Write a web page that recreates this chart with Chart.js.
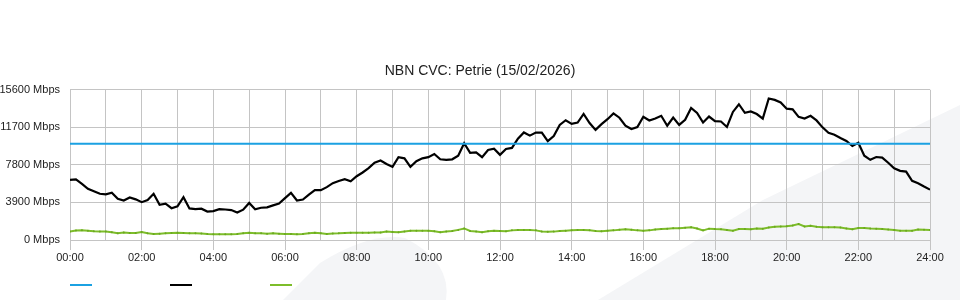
<!DOCTYPE html>
<html>
<head>
<meta charset="utf-8">
<title>NBN CVC: Petrie</title>
<script src="https://cdn.jsdelivr.net/npm/chart.js@4.4.1/dist/chart.umd.min.js"></script>
<style>
    html, body { margin: 0; padding: 0; background: #fff; }
    #wrap { position: relative; width: 960px; height: 300px; }
    #chart { position: absolute; left: 0; top: 0; }
    .swatch { position: absolute; top: 284px; width: 22px; height: 2px; }
</style>
</head>
<body>
<div id="wrap">
    <canvas id="chart" width="960" height="300"></canvas>
    <div class="swatch" style="left:70px;background:#1ba1e2"></div>
    <div class="swatch" style="left:170px;background:#000"></div>
    <div class="swatch" style="left:270px;background:#7dbd2a"></div>
</div>
<script>
// Data (10 minute samples across the day, Mbps)
const SAMPLE_MINUTES = 10;
const CVC_CAPACITY = 10000;

const trafficIn = [
    6240, 6290, 5830, 5320, 5070, 4800, 4750, 4910, 4290, 4100,
    4420, 4220, 3930, 4160, 4800, 3660, 3770, 3300, 3500, 4450,
    3280, 3200, 3250, 2950, 3000, 3210, 3170, 3110, 2860, 3150,
    3850, 3190, 3350, 3390, 3600, 3790, 4350, 4900, 4100, 4200,
    4720, 5180, 5170, 5490, 5900, 6120, 6320, 6100, 6620, 7010,
    7460, 8020, 8250, 7900, 7590, 8600, 8480, 7600, 8190, 8480,
    8600, 8930, 8390, 8320, 8380, 8750, 10050, 9050, 9100, 8600,
    9350, 9480, 8840, 9450, 9560, 10520, 11170, 10840, 11160, 11150,
    10270, 10800, 11950, 12440, 12060, 12200, 13100, 12150, 11440, 12030,
    12550, 13150, 12700, 11880, 11530, 11720, 12800, 12410, 12610, 12900,
    11870, 12720, 11950, 12480, 13720, 13200, 12200, 12820, 12340, 12310,
    11740, 13300, 14100, 13210, 13350, 13080, 12600, 14700, 14550, 14280,
    13640, 13570, 12790, 12610, 12900, 12420, 11700, 11130, 10940, 10600,
    10280, 9760, 10090, 8760, 8330, 8620, 8550, 8020, 7440, 7180,
    7100, 6150, 5900, 5550, 5230
];

const trafficOut = [
    870, 980, 1020, 960, 900, 870, 870, 800, 700, 790,
    720, 720, 820, 700, 620, 650, 690, 720, 760, 730,
    700, 690, 680, 620, 590, 590, 590, 590, 620, 700,
    760, 710, 690, 650, 690, 660, 630, 620, 600, 620,
    700, 760, 700, 620, 680, 690, 720, 760, 760, 760,
    760, 770, 780, 870, 830, 800, 880, 970, 960, 960,
    960, 900, 800, 880, 940, 1050, 1200, 940, 880, 800,
    900, 970, 930, 900, 1000, 1040, 1040, 1040, 1000, 880,
    860, 870, 930, 960, 1000, 1040, 1040, 1000, 940, 900,
    960, 1000, 1060, 1110, 1060, 1000, 970, 1000, 1080, 1150,
    1180, 1210, 1230, 1280, 1320, 1200, 1000, 1180, 1130, 1110,
    1050, 970, 1150, 1150, 1110, 1200, 1180, 1300, 1370, 1390,
    1420, 1500, 1650, 1400, 1480, 1380, 1320, 1330, 1320, 1300,
    1200, 1110, 1250, 1250, 1200, 1180, 1150, 1100, 1040, 970,
    970, 970, 1080, 1060, 1040
];

const xLabels = ['00:00', '02:00', '04:00', '06:00', '08:00', '10:00', '12:00',
                 '14:00', '16:00', '18:00', '20:00', '22:00', '24:00'];
const yTicks = [0, 3900, 7800, 11700, 15600];

const DAY_MINUTES = 1440;
const FONT = "'Liberation Sans', Arial, sans-serif";
const GRID = '#c4c4c4';

function toPoints(values) {
    return values.map((v, i) => ({ x: i * SAMPLE_MINUTES, y: v }));
}

// faint watermark shapes behind the chart
const backdrop = {
    id: 'backdrop',
    beforeDraw(chart) {
        const ctx = chart.ctx;
        ctx.save();
        ctx.fillStyle = '#fff';
        ctx.fillRect(0, 0, chart.width, chart.height);
        ctx.fillStyle = '#f4f5f7';
        ctx.beginPath();
        ctx.moveTo(598, 300);
        ctx.lineTo(763, 200);
        ctx.lineTo(960, 105);
        ctx.lineTo(960, 300);
        ctx.closePath();
        ctx.fill();
        ctx.beginPath();
        ctx.moveTo(283, 300);
        ctx.lineTo(320, 263);
        ctx.quadraticCurveTo(370, 232, 405, 238);
        ctx.quadraticCurveTo(452, 262, 446, 300);
        ctx.closePath();
        ctx.fill();
        ctx.restore();
    }
};

const ctx = document.getElementById('chart').getContext('2d');
new Chart(ctx, {
    type: 'line',
    data: {
        datasets: [
            {
                label: 'CVC',
                data: [{ x: 0, y: CVC_CAPACITY }, { x: DAY_MINUTES, y: CVC_CAPACITY }],
                borderColor: '#1ba1e2',
                borderWidth: 2,
                pointRadius: 0
            },
            {
                label: 'In',
                data: toPoints(trafficIn),
                borderColor: '#000',
                borderWidth: 2.2,
                pointRadius: 0
            },
            {
                label: 'Out',
                data: toPoints(trafficOut),
                borderColor: '#7dbd2a',
                backgroundColor: '#6aa81f',
                borderWidth: 2,
                pointRadius: 1,
                pointBorderWidth: 0
            }
        ]
    },
    plugins: [backdrop],
    options: {
        responsive: false,
        animation: false,
        layout: { padding: { left: 0, right: 0, top: 0, bottom: 30 } },
        scales: {
            x: {
                type: 'linear',
                min: 0,
                max: DAY_MINUTES,
                afterFit: s => { s.height = 30; },
                ticks: {
                    stepSize: 60,
                    autoSkip: false,
                    maxRotation: 0,
                    padding: 1,
                    color: '#222',
                    font: { family: FONT, size: 11 },
                    callback: v => (v % 120 === 0 ? xLabels[v / 120] : '')
                },
                grid: {
                    color: GRID,
                    tickLength: 10,
                    tickColor: c => (c.tick && c.tick.value % 120 === 0 ? GRID : 'rgba(0,0,0,0)')
                },
                border: { display: false }
            },
            y: {
                min: 0,
                max: 15600,
                afterFit: s => { s.width = 70; },
                afterBuildTicks: s => { s.ticks = yTicks.map(v => ({ value: v })); },
                ticks: {
                    padding: 10,
                    color: '#222',
                    font: { family: FONT, size: 11 },
                    callback: v => v + ' Mbps'
                },
                grid: { color: GRID, drawTicks: false },
                border: { display: false }
            },
            // empty right axis, only reserves the right margin
            spacer: {
                position: 'right',
                min: 0,
                max: 1,
                afterFit: s => { s.width = 30; },
                ticks: { display: false },
                grid: { display: false, drawTicks: false },
                border: { display: false }
            }
        },
        plugins: {
            legend: { display: false },
            tooltip: { enabled: false },
            title: {
                display: true,
                text: 'NBN CVC: Petrie (15/02/2026)',
                color: '#222',
                font: { family: FONT, size: 14, weight: 'normal' },
                padding: { top: 63, bottom: 10 }
            }
        }
    }
});
</script>
</body>
</html>
